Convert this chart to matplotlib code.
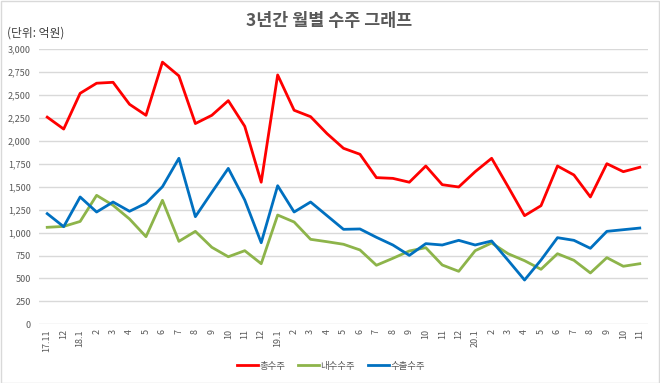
import matplotlib
matplotlib.use("Agg")
import matplotlib.pyplot as plt
from matplotlib.patches import Rectangle
from matplotlib.ticker import FuncFormatter, MultipleLocator

plt.rcParams['font.family'] = ['Noto Sans CJK KR', 'DejaVu Sans']

months = ["17.11", "12", "18.1", "2", "3", "4", "5", "6", "7", "8", "9", "10", "11", "12",
          "19.1", "2", "3", "4", "5", "6", "7", "8", "9", "10", "11", "12",
          "20.1", "2", "3", "4", "5", "6", "7", "8", "9", "10", "11"]

total = [2260, 2130, 2520, 2630, 2640, 2400, 2280, 2860, 2710, 2190, 2280, 2440, 2160, 1550,
         2720, 2335, 2265, 2080, 1920, 1855, 1600, 1592, 1550, 1727, 1523, 1498,
         1665, 1811, 1501, 1185, 1294, 1727, 1629, 1389, 1752, 1665, 1713]

domestic = [1058, 1068, 1122, 1407, 1298, 1149, 956, 1353, 905, 1014, 840, 737, 803, 661,
            1192, 1116, 927, 901, 873, 811, 644, 720, 800, 836, 647, 578,
            803, 887, 770, 694, 600, 770, 698, 560, 727, 633, 661]

export = [1207, 1065, 1389, 1225, 1334, 1233, 1320, 1501, 1811, 1174, 1440, 1701, 1356, 890,
          1512, 1225, 1334, 1185, 1036, 1040, 949, 865, 752, 880, 865, 916,
          865, 909, 698, 483, 701, 945, 916, 829, 1014, 1032, 1050]

series_names = ["총수주", "내수수주", "수출수주"]
colors = ["#ff0000", "#8db44a", "#0070c0"]

W, H = 660, 383
fig = plt.figure(figsize=(W / 100, H / 100), dpi=100)
ax = fig.add_axes([39 / W, 1 - 324.3 / H, (648 - 39) / W, (324.3 - 49.3) / H])

x = list(range(len(months)))
for vals, name, c in zip([total, domestic, export], series_names, colors):
    ax.plot(x, vals, color=c, lw=2.0, label=name, solid_joinstyle='round')

ax.set_xlim(-0.5, len(months) - 0.5)
ax.set_ylim(0, 3000)
ax.yaxis.set_major_locator(MultipleLocator(250))
ax.yaxis.set_major_formatter(FuncFormatter(lambda v, p: f"{int(v):,}"))
ax.grid(axis='y', color='#d9d9d9', lw=1.0)
ax.set_axisbelow(True)
for s in ax.spines.values():
    s.set_visible(False)
ax.tick_params(axis='both', length=0, labelsize=6.5, labelcolor='#595959')
ax.tick_params(axis='y', pad=6)
ax.set_xticks(x)
ax.set_xticklabels(months, rotation=90)

fig.text(329 / W, 1 - 21 / H, "3년간 월별 수주 그래프", ha='center', va='center',
         fontsize=12.5, fontweight='bold', color='#595959')
fig.text(7 / W, 1 - 33 / H, "(단위: 억원)", ha='left', va='center',
         fontsize=8.5, color='#404040')

leg = fig.legend(loc='center', bbox_to_anchor=(331 / W, 1 - 366 / H), ncol=3, frameon=False,
                 fontsize=6.8, handlelength=2.2, columnspacing=1.4, handletextpad=0.15)
for t in leg.get_texts():
    t.set_color('#595959')

fig.patches.append(Rectangle((0.5 / W, 0.5 / H), 1 - 1.5 / W, 1 - 1.5 / H, transform=fig.transFigure,
                             fill=False, edgecolor='#d9d9d9', lw=1.0))

fig.savefig("out.png", dpi=100)
